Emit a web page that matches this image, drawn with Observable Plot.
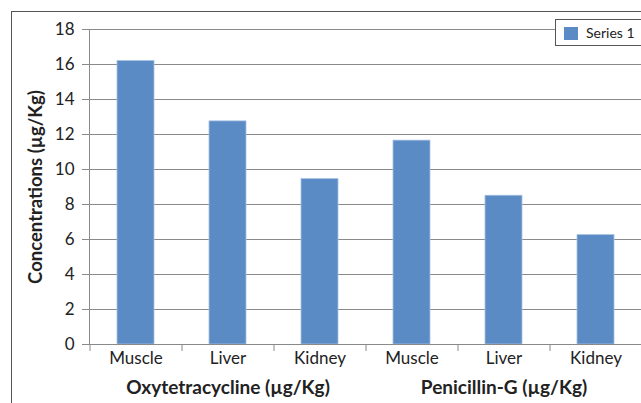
<!DOCTYPE html>
<html><head><meta charset="utf-8">
<script src="https://cdn.jsdelivr.net/npm/d3@7"></script>
<script src="https://cdn.jsdelivr.net/npm/@observablehq/plot@0.6"></script>
<style>
html,body{margin:0;padding:0;background:#fff;overflow:hidden}
#wrap{position:relative;width:641px;height:403px;font-family:Lato,sans-serif}
#border{position:absolute;left:11px;top:11px;width:700px;height:500px;border-top:1px solid #555;border-left:1px solid #555}
#legend{position:absolute;left:555px;top:19px;width:100px;height:25px;border:1px solid #555;background:#fff}
#legend .sw{position:absolute;left:8px;top:7px;width:14px;height:13px;background:#5b8bc5}
#legend .tx{position:absolute;left:30px;top:4px;font-size:14px;color:#222;white-space:nowrap}
#chart{position:absolute;left:0;top:0}
</style></head><body>
<div id="wrap"><div id="border"></div><div id="chart"></div><div id="legend"><div class="sw"></div><div class="tx"></div></div></div>
<script>
const tissues = ["Muscle","Liver","Kidney","Muscle","Liver","Kidney"];
const groups = ["Oxytetracycline (µg/Kg)","Penicillin-G (µg/Kg)"];
const values = [16.2,12.75,9.45,11.65,8.5,6.25];
const yTicks = [0,2,4,6,8,10,12,14,16,18];
const seriesName = "Series 1";
const yTitle = "Concentrations (µg/Kg)";

const data = tissues.map((t,i)=>({key:String(i), tissue:t, group:groups[Math.floor(i/3)], value:values[i], mid:i%3===1}));
const W=641,H=403,mL=89,mR=0,mT=29,mB=59;
const step=(W-mL-mR)/data.length;

const plot = Plot.plot({
  width:W, height:H, marginLeft:mL, marginRight:mR, marginTop:mT, marginBottom:mB,
  style:{fontFamily:"Lato, sans-serif", color:"#222", background:"transparent", overflow:"visible"},
  x:{domain:data.map(d=>d.key), paddingInner:0.6, paddingOuter:0.3, axis:null},
  y:{domain:[0,18], axis:null},
  marks:[
    Plot.gridY(yTicks,{stroke:"#8a8a8a", strokeOpacity:1}),
    Plot.axisY(yTicks,{tickSize:7, tickPadding:8, fontSize:17, stroke:"#8a8a8a", fill:"#222", label:null}),
    Plot.text([yTitle],{frameAnchor:"left", textAnchor:"middle", dx:-53, rotate:-90, fontSize:18.5, fontWeight:"bold", fill:"#222"}),
    Plot.barY(data,{x:"key", y:"value", fill:"#5b8bc5", stroke:"#a8c0e2", strokeWidth:0.8}),
    Plot.frame({anchor:"left", stroke:"#8a8a8a"}),
    Plot.ruleY([0],{stroke:"#8a8a8a"}),
    Plot.axisX({tickSize:7, dx:-step/2, tickFormat:()=>"", stroke:"#8a8a8a", label:null}),
    Plot.axisX({tickSize:0, tickPadding:7, fontSize:17, fill:"#222", tickFormat:k=>data[+k].tissue, label:null}),
    Plot.text(data.filter(d=>d.mid),{x:"key", y:0, text:"group", dy:43, fontSize:19, fontWeight:"bold", fill:"#222"})
  ]
});
document.getElementById("chart").appendChild(plot);
document.querySelector("#legend .tx").textContent = seriesName;
</script>
</body></html>
